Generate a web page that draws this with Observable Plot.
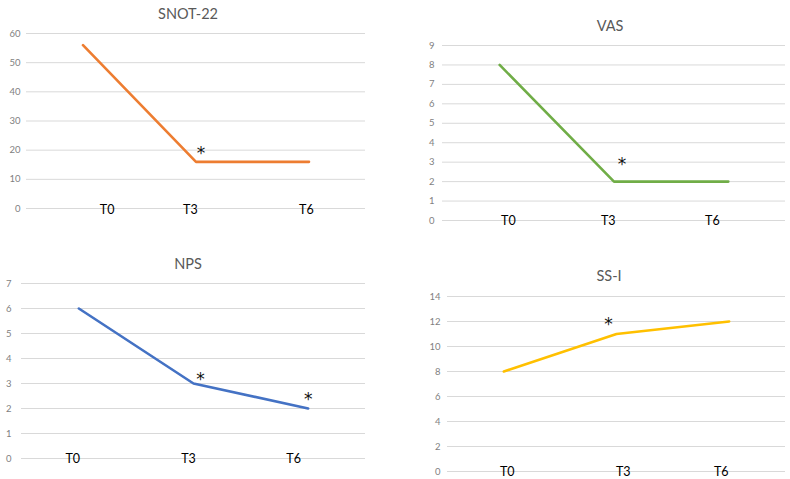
<!DOCTYPE html>
<html>
<head>
<meta charset="utf-8">
<script src="https://cdn.jsdelivr.net/npm/d3@7"></script>
<script src="https://cdn.jsdelivr.net/npm/@observablehq/plot@0.6"></script>
<style>
  html, body { margin: 0; padding: 0; background: #fff; }
  #root { position: relative; width: 790px; height: 479px; overflow: hidden; font-family: Lato, "Open Sans", sans-serif; }
  .panel { position: absolute; }
  .title { position: absolute; transform: translate(-50%, -50%); font-size: 14.5px; color: #595959; white-space: nowrap; }
</style>
</head>
<body>
<div id="root"></div>
<script>
// ---- data ----
const timepoints = ["T0", "T3", "T6"];
const months = [0, 3, 6];
const snot22 = [56, 16, 16];
const vas = [8, 2, 2];
const nps = [6, 3, 2];
const ssi = [8, 11, 12];
// significance markers (*)
const snot22Sig = [false, true, false];
const vasSig = [false, true, false];
const npsSig = [false, true, true];
const ssiSig = [false, true, false];

// ---- layout (page pixels / styling) ----
const panels = [
  {title: "SNOT-22", values: snot22, sig: snot22Sig, color: "#ED7D31", yMax: 60, yStep: 10,
   gridLeft: 26, gridRight: 365, gridTop: 33, tickPad: 6, titleX: 188, titleY: 13,
   labelShift: [0.64, -0.15, -0.07], labelDy: 1, starDx: [0, 5, 0], starDy: [0, -12, 0]},
  {title: "VAS", values: vas, sig: vasSig, color: "#70AD47", yMax: 9, yStep: 1,
   gridLeft: 442, gridRight: 785, gridTop: 45, tickPad: 8, titleX: 610, titleY: 25,
   labelShift: [0.23, -0.15, -0.42], labelDy: 0, starDx: [0, 8, 0], starDy: [0, -21, 0]},
  {title: "NPS", values: nps, sig: npsSig, color: "#4472C4", yMax: 7, yStep: 1,
   gridLeft: 21, gridRight: 365, gridTop: 283, tickPad: 10, titleX: 188, titleY: 263,
   labelShift: [-0.16, -0.13, -0.38], labelDy: 0, starDx: [0, 7, 0], starDy: [0, -8, -13]},
  {title: "SS-I", values: ssi, sig: ssiSig, color: "#FFC000", yMax: 14, yStep: 2,
   gridLeft: 447, gridRight: 785, gridTop: 296, tickPad: 7, titleX: 609, titleY: 275,
   labelShift: [0.09, 0.18, -0.21], labelDy: 0, starDx: [0, -8, 0], starDy: [0, -13.5, 0]}
];

const ML = 34, MR = 4, MT = 6, MB = 16, PH = 175;
const root = document.getElementById("root");

for (const p of panels) {
  const rows = timepoints.map((t, i) => ({t, m: months[i], v: p.values[i], sig: p.sig[i], i}));
  const ticks = d3.range(0, p.yMax + 0.001, p.yStep);
  const width = p.gridRight - p.gridLeft + ML + MR;
  const chart = Plot.plot({
    width,
    height: PH + MT + MB,
    marginLeft: ML, marginRight: MR, marginTop: MT, marginBottom: MB,
    style: {fontFamily: "Lato, 'Open Sans', sans-serif", color: "#595959", background: "transparent", overflow: "visible"},
    x: {domain: [-1.5, 7.5], axis: null},
    y: {domain: [0, p.yMax], axis: null},
    marks: [
      Plot.ruleY(ticks, {stroke: "#d9d9d9", strokeWidth: 1}),
      Plot.axisY({ticks, label: null, tickSize: 0, tickPadding: p.tickPad, fontSize: 9.5, fill: "#7f7f7f", tickFormat: d => String(d)}),
      Plot.lineY(rows, {x: "m", y: "v", stroke: p.color, strokeWidth: 2.6, strokeLinejoin: "miter"}),
      Plot.text(rows, {x: d => d.m + p.labelShift[d.i], y: () => 0, text: "t", fontSize: 12.5, fill: "#000", dy: p.labelDy, lineAnchor: "middle"}),
      ...rows.filter(d => d.sig).map(d =>
        Plot.text([d], {x: "m", y: "v", text: () => "*", fontSize: 17, fontFamily: "DejaVu Sans", fill: "#111",
          dx: p.starDx[d.i], dy: p.starDy[d.i] + 4, lineAnchor: "middle"}))
    ]
  });
  const div = document.createElement("div");
  div.className = "panel";
  div.style.left = (p.gridLeft - ML) + "px";
  div.style.top = (p.gridTop - MT) + "px";
  div.appendChild(chart);
  root.appendChild(div);

  const t = document.createElement("div");
  t.className = "title";
  t.style.left = p.titleX + "px";
  t.style.top = p.titleY + "px";
  t.textContent = p.title;
  root.appendChild(t);
}
</script>
</body>
</html>
